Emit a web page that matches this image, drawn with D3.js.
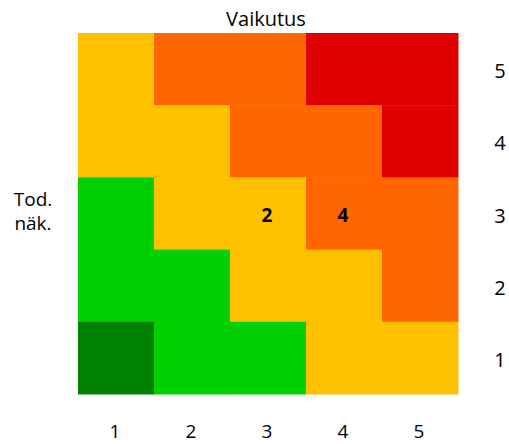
<!DOCTYPE html>
<html><head><meta charset="utf-8">
<script src="https://cdn.jsdelivr.net/npm/d3@7"></script>
<style>body{margin:0;background:#fff}svg{display:block}text{font-family:"Open Sans",sans-serif;fill:#000}</style>
</head><body><svg id="c" width="509" height="444"></svg>
<script>
const impact = [1,2,3,4,5];
const probability = [5,4,3,2,1];
// level per row (probability 5..1), columns impact 1..5
const levels = [
  ["Y","O","O","R","R"],
  ["Y","Y","O","O","R"],
  ["G","Y","Y","O","O"],
  ["G","G","Y","Y","O"],
  ["DG","G","G","Y","Y"]
];
const labels = [{p:3,i:3,t:"2"},{p:3,i:4,t:"4"}];
const colorKeys = ["DG","G","Y","O","R"];
const colorVals = ["#008000","#00D000","#FFC000","#FF6600","#E00000"];

const svg = d3.select("#c");
const x = d3.scaleBand().domain(impact).range([78,458]);
const y = d3.scaleBand().domain(probability).range([33,394]);
const color = d3.scaleOrdinal().domain(colorKeys).range(colorVals);

const cells = [];
probability.forEach((p,ri)=>impact.forEach((im,ci)=>cells.push({p,i:im,l:levels[ri][ci]})));
svg.selectAll("rect").data(cells).enter().append("rect")
  .attr("x",d=>x(d.i)).attr("y",d=>y(d.p))
  .attr("width",x.bandwidth()+0.5).attr("height",y.bandwidth()+0.5)
  .attr("fill",d=>color(d.l));

svg.selectAll("text.cell").data(labels).enter().append("text").attr("class","cell")
  .attr("x",d=>x(d.i)+x.bandwidth()/2-1).attr("y",d=>y(d.p)+y.bandwidth()/2+1)
  .attr("text-anchor","middle").attr("dominant-baseline","central")
  .style("font-weight","bold").style("font-size","19px").text(d=>d.t);

svg.selectAll("text.bx").data(impact).enter().append("text").attr("class","bx")
  .attr("x",d=>x(d)+x.bandwidth()/2-1).attr("y",438)
  .attr("text-anchor","middle")
  .style("font-size","19px").text(d=>d);

svg.selectAll("text.ry").data(probability).enter().append("text").attr("class","ry")
  .attr("x",500).attr("y",d=>y(d)+y.bandwidth()/2+1.5)
  .attr("text-anchor","middle").attr("dominant-baseline","central")
  .style("font-size","20px").text(d=>d);

svg.append("text").attr("x",266).attr("y",18).attr("text-anchor","middle")
  .attr("dominant-baseline","central").style("font-size","20px").text("Vaikutus");
svg.append("text").attr("x",33).attr("y",206).attr("text-anchor","middle")
  .style("font-size","19px").text("Tod.");
svg.append("text").attr("x",33).attr("y",230).attr("text-anchor","middle")
  .style("font-size","19px").text("näk.");
</script></body></html>
